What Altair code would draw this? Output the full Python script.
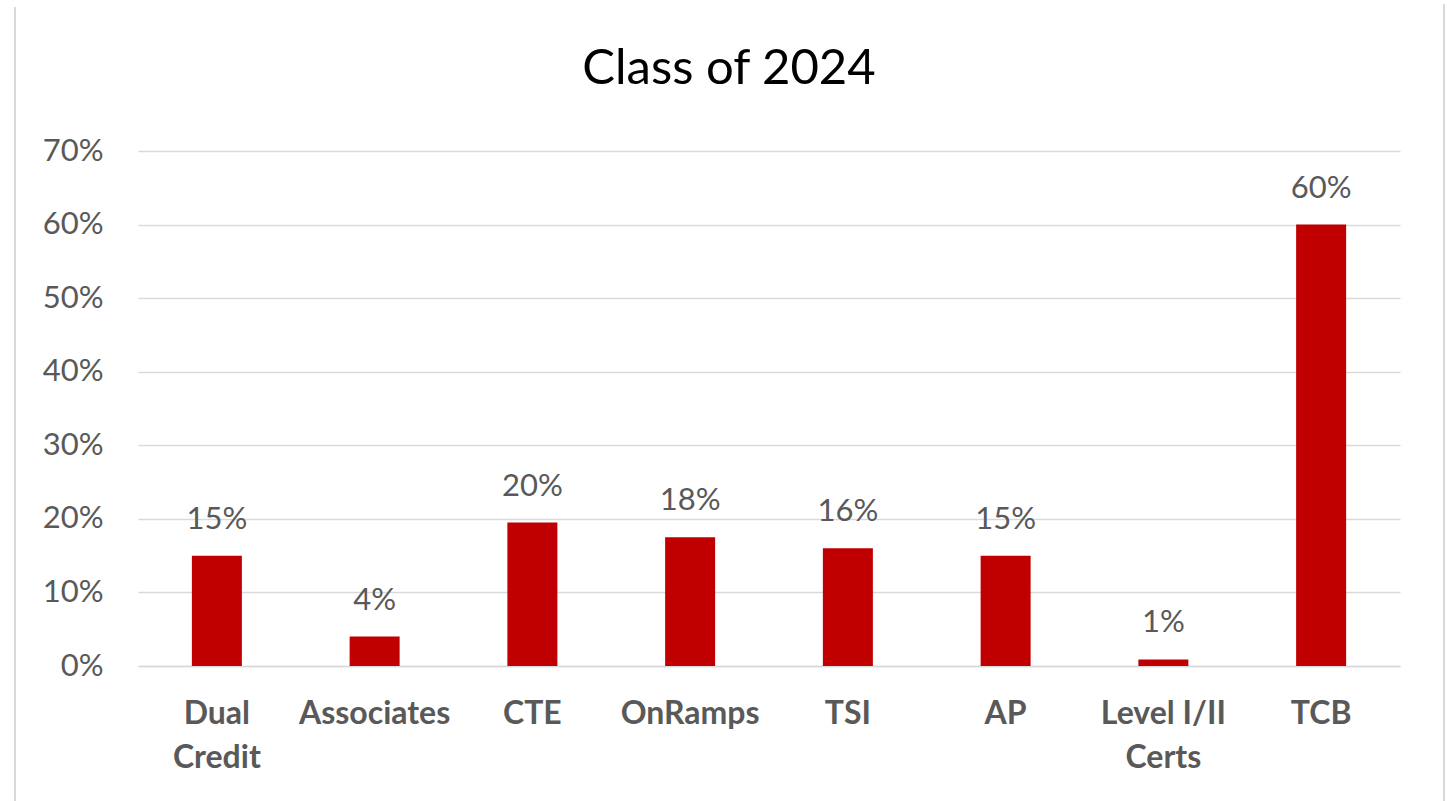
import altair as alt
import pandas as pd

title_text = "Class of 2024"
categories = ["Dual|Credit", "Associates", "CTE", "OnRamps", "TSI", "AP", "Level I/II|Certs", "TCB"]
values = [0.150, 0.040, 0.195, 0.175, 0.160, 0.150, 0.009, 0.600]
labels = ["15%", "4%", "20%", "18%", "16%", "15%", "1%", "60%"]
y_ticks = [0, 0.1, 0.2, 0.3, 0.4, 0.5, 0.6, 0.7]

df = pd.DataFrame({"cat": categories, "value": values, "label": labels})

FONT = "Lato"
GRAY = "#595959"
GRID = "#D9D9D9"

x_enc = alt.X(
    "cat:N",
    sort=None,
    title=None,
    scale=alt.Scale(paddingInner=0, paddingOuter=0),
    axis=alt.Axis(
        labelExpr="split(datum.value, '|')",
        labelAngle=0,
        labelFont=FONT,
        labelFontSize=32,
        labelFontWeight="bold",
        labelColor=GRAY,
        labelBaseline="top",
        labelPadding=32,
        labelLineHeight=44,
        ticks=False,
        domainColor=GRID,
        domainWidth=1.5,
        grid=False,
    ),
)

y_enc = alt.Y(
    "value:Q",
    title=None,
    scale=alt.Scale(domain=[0, 0.7], nice=False),
    axis=alt.Axis(
        values=y_ticks,
        format=".0%",
        labelFont=FONT,
        labelFontSize=31,
        labelColor=GRAY,
        labelPadding=35,
        ticks=False,
        domain=False,
        gridColor=GRID,
        gridWidth=1.5,
    ),
)

bars = alt.Chart(df).mark_bar(color="#C00000", size=50).encode(x=x_enc, y=y_enc)

text = alt.Chart(df).mark_text(
    font=FONT, fontSize=31, color=GRAY, baseline="alphabetic", dy=-27
).encode(x=alt.X("cat:N", sort=None), y="value:Q", text="label:N")

title_df = pd.DataFrame({"t": [title_text]})
title = alt.Chart(title_df).mark_text(
    font=FONT, fontSize=49, color="#000000", baseline="alphabetic", align="center"
).encode(x=alt.value(591), y=alt.value(-67), text="t:N")

frame_df = pd.DataFrame({"side": ["left"]})
left_line = alt.Chart(frame_df).mark_rule(color=GRID, strokeWidth=2).encode(
    x=alt.value(-123), y=alt.value(-144), y2=alt.value(650)
)
right_line = alt.Chart(frame_df).mark_rule(color=GRID, strokeWidth=2).encode(
    x=alt.value(1306), y=alt.value(-147), y2=alt.value(650)
)

chart = (
    alt.layer(bars, text, title, left_line, right_line)
    .properties(
        width=1262,
        height=515,
        autosize=alt.AutoSizeParams(type="none"),
        padding={"left": 138, "top": 151, "right": 47, "bottom": 135},
        background="white",
    )
    .configure_view(stroke=None)
)

chart.save("out.html", embed_options={"renderer": "svg", "actions": False})
